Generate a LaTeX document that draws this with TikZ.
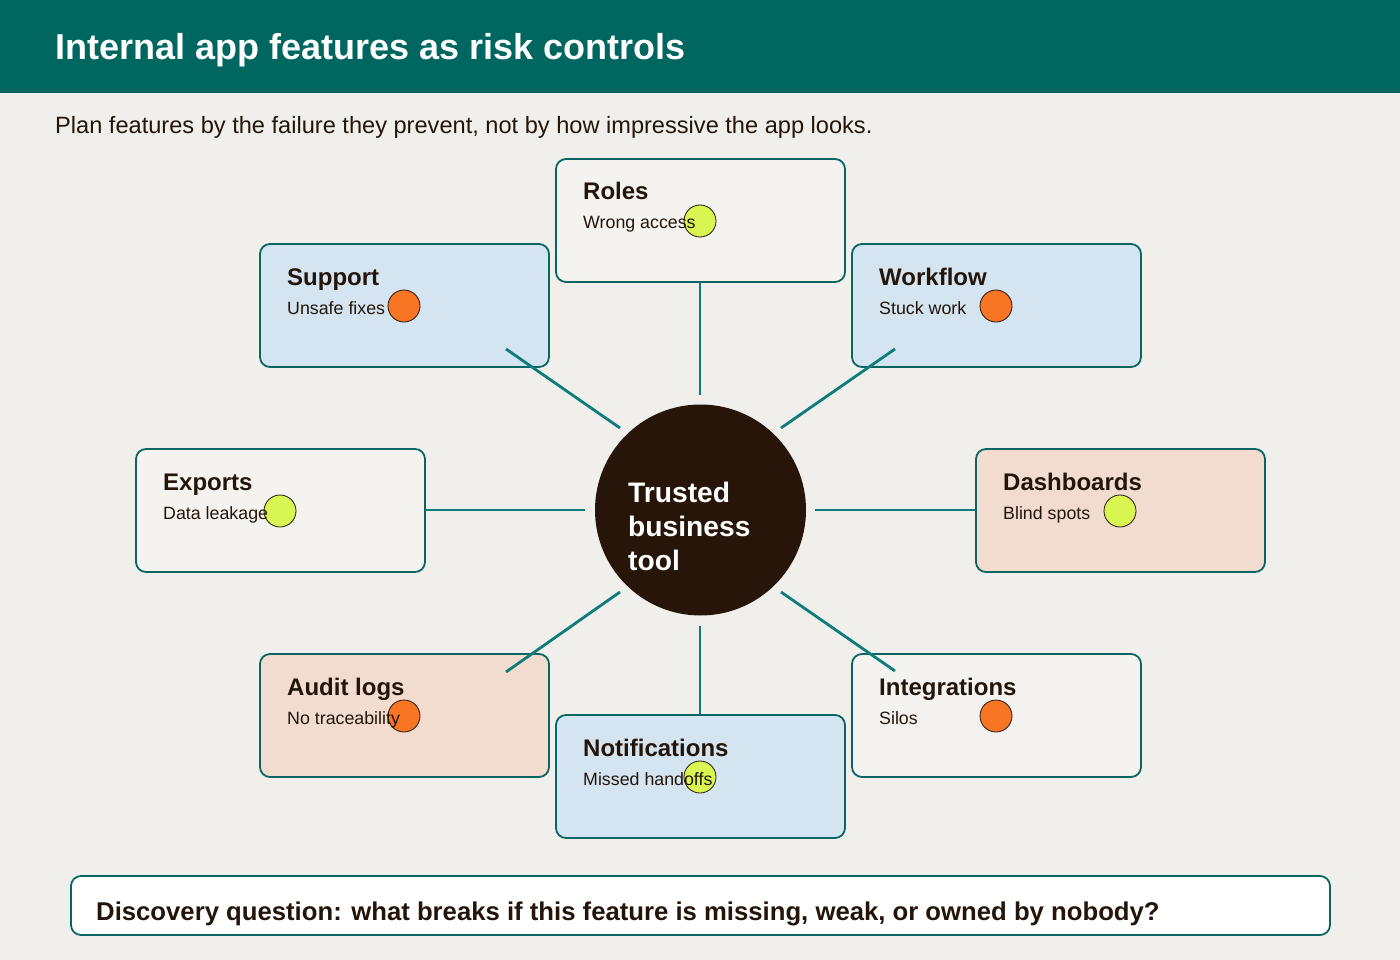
\documentclass[tikz,border=0pt]{standalone}
\usepackage{fontspec}
\setmainfont{Liberation Sans}
\definecolor{bgc}{HTML}{F0EFEB}
\definecolor{headc}{HTML}{006660}
\definecolor{ink}{HTML}{23150A}
\definecolor{edgec}{HTML}{0B6563}
\definecolor{linkc}{HTML}{0E7C7B}
\definecolor{offw}{HTML}{F5F3F0}
\definecolor{lblue}{HTML}{D4E4F0}
\definecolor{peach}{HTML}{F2DCCF}
\definecolor{hubc}{HTML}{261508}
\definecolor{dotY}{HTML}{D9F551}
\definecolor{dotO}{HTML}{F87523}
\tikzset{
  card/.style={draw=edgec, line width=1.8pt, rounded corners=10pt, minimum width=289pt, minimum height=123pt, inner sep=0pt},
  ttl/.style={anchor=base west, inner sep=0pt, text=ink, font=\fontsize{24}{28}\selectfont\bfseries},
  sub/.style={anchor=base west, inner sep=0pt, text=ink, font=\fontsize{17.8}{21}\selectfont},
  dotb/.style={circle, draw=ink, line width=0.8pt, minimum size=32pt, inner sep=0pt},
  link/.style={draw=linkc, line width=2.8pt},
}
\begin{document}
\begin{tikzpicture}[x=1pt,y=-1pt]
\useasboundingbox (0,0) rectangle (1400,960);
\fill[bgc] (0,0) rectangle (1400,960);
\fill[headc] (0,0) rectangle (1400,93);
\node[anchor=base west, inner sep=0pt, text=white, font=\fontsize{36}{40}\selectfont\bfseries] (title) at (55,60) {Internal app features as risk controls};
\node[anchor=base west, inner sep=0pt, text=ink, font=\fontsize{23.6}{28}\selectfont] (subtitle) at (55,134) {Plan features by the failure they prevent, not by how impressive the app looks.};

% cards
\node[card, fill=offw]  (roles)   at (700.5,220.5) {};
\node[card, fill=lblue] (support) at (404.5,305.5) {};
\node[card, fill=lblue] (workflow) at (996.5,305.5) {};
\node[card, fill=offw]  (exports) at (280.5,510.5) {};
\node[card, fill=peach] (dash)    at (1120.5,510.5) {};
\node[card, fill=peach] (audit)   at (404.5,715.5) {};
\node[card, fill=offw]  (integ)   at (996.5,715.5) {};
\node[card, fill=lblue] (notif)   at (700.5,776.5) {};

% hub
\node[circle, fill=hubc, minimum size=211pt, inner sep=0pt] (hub) at (700.5,510) {};
\node[anchor=base west, inner sep=0pt, text=white, align=left, font=\fontsize{28.2}{34}\selectfont\bfseries] (hubt) at (628,570) {Trusted\\business\\tool};

% connectors
\coordinate (tlA) at (506,349); \coordinate (tlB) at (620,428);
\coordinate (trA) at (895,349); \coordinate (trB) at (781,428);
\coordinate (blA) at (620,592); \coordinate (blB) at (506,672);
\coordinate (brA) at (781,592); \coordinate (brB) at (895,671);
\coordinate (tA) at (700,283); \coordinate (tB) at (700,395);
\coordinate (bA) at (700,626); \coordinate (bB) at (700,714);
\coordinate (lA) at (426,510); \coordinate (lB) at (585,510);
\coordinate (rA) at (815,510); \coordinate (rB) at (975,510);
\draw[link] (tlA) -- (tlB);
\draw[link] (trA) -- (trB);
\draw[link] (blA) -- (blB);
\draw[link] (brA) -- (brB);
\draw[link] (tA) -- (tB);
\draw[link] (bA) -- (bB);
\draw[link] (lA) -- (lB);
\draw[link] (rA) -- (rB);

% dots
\node[dotb, fill=dotY] (d1) at (700,221) {};
\node[dotb, fill=dotO] (d2) at (404,306) {};
\node[dotb, fill=dotO] (d3) at (996,306) {};
\node[dotb, fill=dotY] (d4) at (280,511) {};
\node[dotb, fill=dotY] (d5) at (1120,511) {};
\node[dotb, fill=dotO] (d6) at (404,716) {};
\node[dotb, fill=dotO] (d7) at (996,716) {};
\node[dotb, fill=dotY] (d8) at (700,777) {};

% texts
\node[ttl] (t1) at (583,200) {Roles};
\node[sub] (s1) at (583,229) {Wrong access};
\node[ttl] (t2) at (287,285) {Support};
\node[sub] (s2) at (287,314) {Unsafe fixes};
\node[ttl] (t3) at (879,285) {Workflow};
\node[sub] (s3) at (879,314) {Stuck work};
\node[ttl] (t4) at (163,490) {Exports};
\node[sub] (s4) at (163,519) {Data leakage};
\node[ttl] (t5) at (1003,490) {Dashboards};
\node[sub] (s5) at (1003,519) {Blind spots};
\node[ttl] (t6) at (287,695) {Audit logs};
\node[sub] (s6) at (287,724) {No traceability};
\node[ttl] (t7) at (879,695) {Integrations};
\node[sub] (s7) at (879,724) {Silos};
\node[ttl] (t8) at (583,756) {Notifications};
\node[sub] (s8) at (583,785) {Missed handoffs};

% bottom question
\node[draw=edgec, line width=1.8pt, rounded corners=10pt, fill=white, minimum width=1259pt, minimum height=59pt, inner sep=0pt] (qbox) at (700.5,905.5) {};
\node[anchor=base west, inner sep=0pt, text=ink, font=\fontsize{25.7}{30}\selectfont\bfseries] (qtext) at (96,920) {Discovery question: what breaks if this feature is missing, weak, or owned by nobody?};
\end{tikzpicture}
\end{document}
